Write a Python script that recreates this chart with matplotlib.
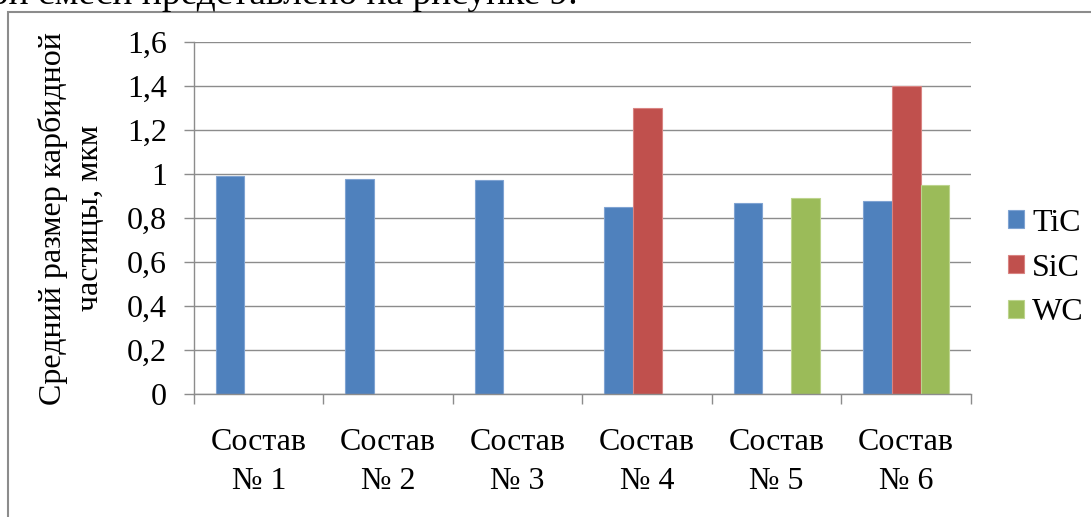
import numpy as np
import matplotlib.pyplot as plt
from matplotlib.patches import Rectangle

# Средний размер карбидной частицы по составам
categories = ["Состав\n№ 1", "Состав\n№ 2", "Состав\n№ 3",
              "Состав\n№ 4", "Состав\n№ 5", "Состав\n№ 6"]
tic = [0.99, 0.98, 0.975, 0.85, 0.87, 0.88]
sic = [np.nan, np.nan, np.nan, 1.30, np.nan, 1.40]
wc = [np.nan, np.nan, np.nan, np.nan, 0.89, 0.95]
y_ticks = [0, 0.2, 0.4, 0.6, 0.8, 1.0, 1.2, 1.4, 1.6]
y_labels = ["0", "0,2", "0,4", "0,6", "0,8", "1", "1,2", "1,4", "1,6"]

plt.rcParams['font.family'] = ['Liberation Serif', 'DejaVu Serif']
FS = 23

fig = plt.figure(figsize=(10.91, 5.17), dpi=100)
ax = fig.add_axes([0.1778, 0.2373, 0.7122, 0.6814])

x = np.arange(len(categories))
w = 1 / 4.5
ax.bar(x - w, tic, w, color='#4F81BD', edgecolor='#7FA3D2', linewidth=0.8, label='TiC')
ax.bar(x, sic, w, color='#C0504D', edgecolor='#D98482', linewidth=0.8, label='SiC')
ax.bar(x + w, wc, w, color='#9BBB59', edgecolor='#BDD48E', linewidth=0.8, label='WC')

ax.set_xlim(-0.5, len(categories) - 0.5)
ax.set_ylim(0, 1.6)
ax.set_yticks(y_ticks)
ax.set_yticklabels(y_labels, fontsize=FS)
ax.yaxis.grid(True, color='#8c8c8c', linewidth=1)
ax.set_axisbelow(True)

# separators between groups as major ticks, names on minor ticks
ax.set_xticks(np.arange(-0.5, len(categories), 1))
ax.set_xticklabels([])
ax.set_xticks(x, minor=True)
ax.set_xticklabels(categories, minor=True, fontsize=FS, linespacing=1.45)
ax.tick_params(axis='x', which='major', length=7.5, width=1, color='#8c8c8c')
ax.tick_params(axis='x', which='minor', length=0, pad=24)
ax.tick_params(axis='y', length=7.5, width=1, color='#8c8c8c', pad=12)

for side in ['top', 'right']:
    ax.spines[side].set_visible(False)
for side in ['left', 'bottom']:
    ax.spines[side].set_color('#8c8c8c')
    ax.spines[side].set_linewidth(1)

ax.set_ylabel("Средний размер карбидной\nчастицы, мкм", fontsize=FS,
              linespacing=1.35, labelpad=16)

ax.legend(loc='center left', bbox_to_anchor=(1008 / 1091, 0.4816),
          bbox_transform=fig.transFigure, frameon=False, fontsize=FS,
          handlelength=0.5, handleheight=0.5, handletextpad=0.25,
          labelspacing=0.5, borderpad=0, borderaxespad=0)

# рамка диаграммы
fig.patches.append(Rectangle((8 / 1091, -0.1), 1.2, (517 - 12) / 517 + 0.1,
                             transform=fig.transFigure, fill=False,
                             edgecolor='#8c8c8c', linewidth=1.5))

fig.text(578 / 1091, 1 - 4 / 517, "ой смеси представлено на рисунке 9.",
         ha='right', va='baseline', fontsize=27)

fig.savefig("out.png", dpi=100)
